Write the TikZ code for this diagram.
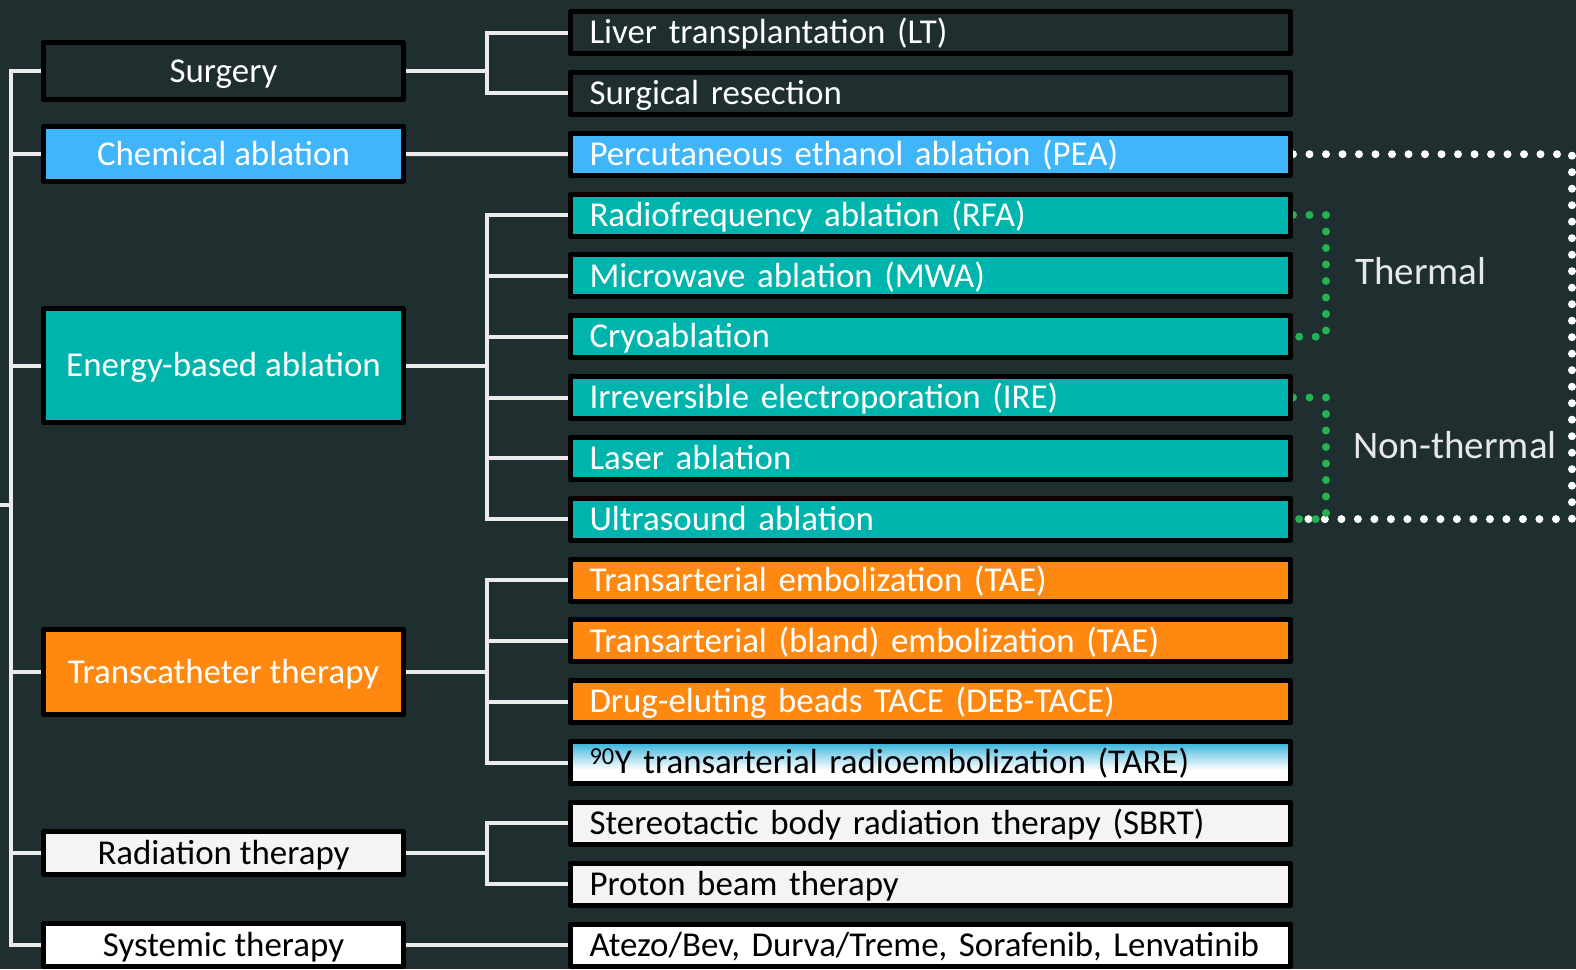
\documentclass[tikz,border=0pt]{standalone}
\usepackage{fontspec}
\setmainfont{Carlito}
\usetikzlibrary{backgrounds}
\definecolor{bg}{HTML}{1F2E2E}
\definecolor{lineC}{HTML}{EBEBEB}
\definecolor{chemC}{HTML}{41B5F9}
\definecolor{tealC}{HTML}{00B4AE}
\definecolor{orangeC}{HTML}{FF8811}
\definecolor{lightC}{HTML}{F4F4F4}
\definecolor{greenC}{HTML}{22B452}
\definecolor{tareC}{HTML}{2AAFD6}
\definecolor{tareM}{HTML}{9ED9EE}
\definecolor{labelC}{HTML}{E8E8E8}
\pgfdeclareverticalshading{tareshade}{100bp}{color(0bp)=(white); color(25bp)=(white); color(41bp)=(white); color(58bp)=(tareM); color(75bp)=(tareC); color(100bp)=(tareC)}
\begin{document}
\begin{tikzpicture}[x=1pt,y=-1pt,
  box/.style={draw=black, line width=5pt, line join=round, text height=22.5pt, text depth=0pt,
    inner ysep=0pt, font=\fontsize{34.9}{40}\selectfont},
  lbox/.style={box, minimum width=360pt, inner xsep=0pt},
  rbox/.style={box, minimum height=42pt, text width=682pt, align=left, inner xsep=19pt},
  conn/.style={draw=lineC, line width=4pt},
  whitedots/.style={draw=white, line width=8pt, line cap=round, dash pattern=on 0pt off 16.5pt},
  greendots/.style={draw=greenC, line width=8pt, line cap=round, dash pattern=on 0pt off 16.5pt},
  lab/.style={font=\fontsize{39}{44}\selectfont, text=labelC, anchor=base west, inner sep=0pt}]
\useasboundingbox (0,0) rectangle (1576,969);

% left column
\node[lbox, fill=bg, text=white, minimum height=57pt] (sur) at (223.5,71) {Surgery};
\node[lbox, fill=chemC, text=white, minimum height=55pt] (chem) at (223.5,154) {Chemical ablation};
\node[lbox, fill=tealC, text=white, minimum height=114pt] (ene) at (223.5,365.5) {Energy-based ablation};
\node[lbox, fill=orangeC, text=white, minimum height=85pt] (tra) at (223.5,672) {Transcatheter therapy};
\node[lbox, fill=lightC, text=black, minimum height=43pt] (rad) at (223.5,853) {Radiation therapy};
\node[lbox, fill=white, text=black, minimum height=43pt] (sys) at (223.5,945) {Systemic therapy};

% right column
\node[rbox, fill=bg, text=white] (lt) at (930.5,32.5) {\mbox{Liver transplantation (LT)}};
\node[rbox, fill=bg, text=white] (sr) at (930.5,93.3) {\mbox{Surgical resection}};
\node[rbox, fill=chemC, text=white] (pea) at (930.5,154.2) {\mbox{Percutaneous ethanol ablation (PEA)}};
\node[rbox, fill=tealC, text=white] (rfa) at (930.5,215.0) {\mbox{Radiofrequency ablation (RFA)}};
\node[rbox, fill=tealC, text=white] (mwa) at (930.5,275.8) {\mbox{Microwave ablation (MWA)}};
\node[rbox, fill=tealC, text=white] (cryo) at (930.5,336.7) {\mbox{Cryoablation}};
\node[rbox, fill=tealC, text=white] (ire) at (930.5,397.5) {\mbox{Irreversible electroporation (IRE)}};
\node[rbox, fill=tealC, text=white] (laser) at (930.5,458.3) {\mbox{Laser ablation}};
\node[rbox, fill=tealC, text=white] (us) at (930.5,519.1) {\mbox{Ultrasound ablation}};
\node[rbox, fill=orangeC, text=white] (tae) at (930.5,580.0) {\mbox{Transarterial embolization (TAE)}};
\node[rbox, fill=orangeC, text=white] (btae) at (930.5,640.8) {\mbox{Transarterial (bland) embolization (TAE)}};
\node[rbox, fill=orangeC, text=white] (deb) at (930.5,701.6) {\mbox{Drug-eluting beads TACE (DEB-TACE)}};
\node[rbox, shade, shading=tareshade, text=black] (tare) at (930.5,762.5) {\mbox{\textsuperscript{90}Y transarterial radioembolization (TARE)}};
\node[rbox, fill=lightC, text=black] (sbrt) at (930.5,823.3) {\mbox{Stereotactic body radiation therapy (SBRT)}};
\node[rbox, fill=lightC, text=black] (pbt) at (930.5,884.1) {\mbox{Proton beam therapy}};
\node[rbox, fill=white, text=black] (ato) at (930.5,945.0) {\mbox{Atezo/Bev, Durva/Treme, Sorafenib, Lenvatinib}};

% labels
\node[lab] (th) at (1355,284) {Thermal};
\node[lab] (nth) at (1353,458) {Non-thermal};

\coordinate (rx) at (10.5,0);
\coordinate (bx) at (487,0);
\coordinate (root) at (0,505);
\coordinate (wr1) at (1572,154.2);
\coordinate (wr2) at (1572,519.1);
\coordinate (gx) at (1326,0);

\begin{pgfonlayer}{background}
\fill[bg] (0,0) rectangle (1576,969);
% root connectors
\draw[conn] (sur.west) -- (sur.west -| rx) -- (sys.west -| rx) -- (sys.west);
\foreach \n in {chem,ene,tra,rad} \draw[conn] (\n.west) -- (\n.west -| rx);
\draw[conn] (root) -- (root -| rx);
% surgery
\draw[conn] (sur.east) -- (sur.east -| bx);
\draw[conn] (lt.west) -- (lt.west -| bx) -- (sr.west -| bx) -- (sr.west);
% chemical
\draw[conn] (chem.east) -- (pea.west);
% energy
\draw[conn] (ene.east) -- (ene.east -| bx);
\draw[conn] (rfa.west) -- (rfa.west -| bx) -- (us.west -| bx) -- (us.west);
\foreach \n in {mwa,cryo,ire,laser} \draw[conn] (\n.west) -- (\n.west -| bx);
% transcatheter
\draw[conn] (tra.east) -- (tra.east -| bx);
\draw[conn] (tae.west) -- (tae.west -| bx) -- (tare.west -| bx) -- (tare.west);
\foreach \n in {btae,deb} \draw[conn] (\n.west) -- (\n.west -| bx);
% radiation
\draw[conn] (rad.east) -- (rad.east -| bx);
\draw[conn] (sbrt.west) -- (sbrt.west -| bx) -- (pbt.west -| bx) -- (pbt.west);
% systemic
\draw[conn] (sys.east) -- (ato.west);
% dotted groupings
\draw[whitedots] (pea.east) -- (wr1) -- (wr2) -- (us.east);
\draw[greendots] (rfa.east) -- (rfa.east -| gx) -- (cryo.east -| gx) -- (cryo.east);
\draw[greendots] (ire.east) -- (ire.east -| gx) -- (us.east -| gx) -- (us.east);
\end{pgfonlayer}
\end{tikzpicture}
\end{document}
